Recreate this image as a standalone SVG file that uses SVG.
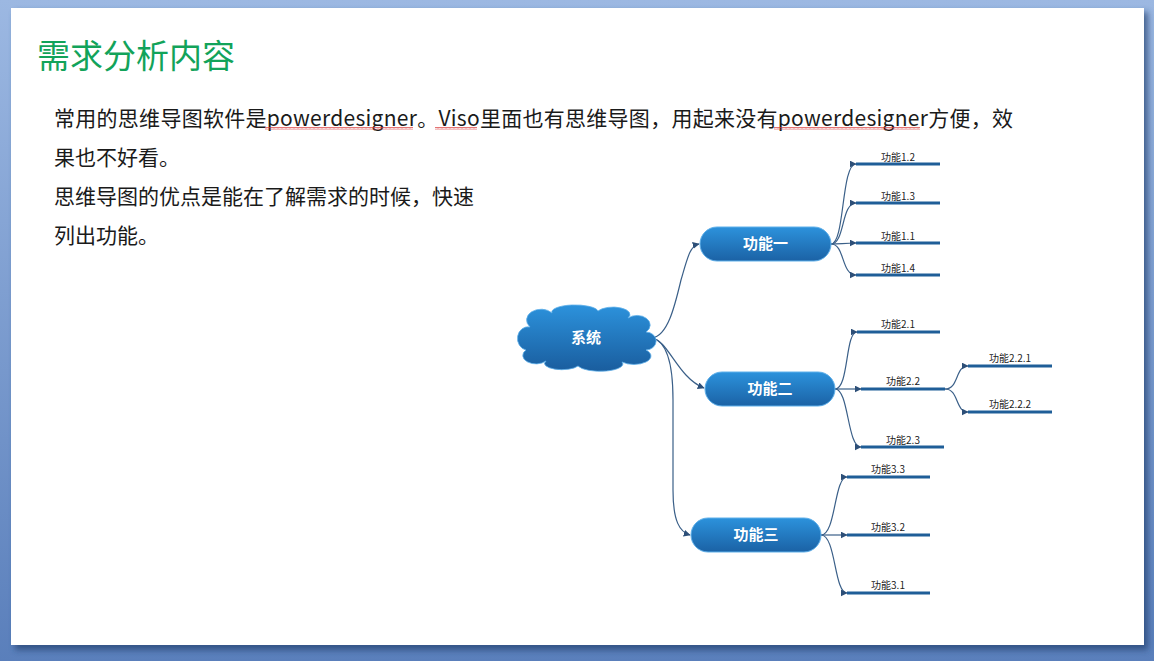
<svg xmlns="http://www.w3.org/2000/svg" width="1154" height="661" viewBox="0 0 1154 661">
<defs>
<linearGradient id="bg" x1="0" y1="0" x2="0" y2="1">
<stop offset="0" stop-color="#9cb8e2"/>
<stop offset="1" stop-color="#5a7fbb"/>
</linearGradient>
<linearGradient id="nodeGrad" x1="0" y1="0" x2="0" y2="1">
<stop offset="0" stop-color="#2c92dc"/>
<stop offset="1" stop-color="#1b62a5"/>
</linearGradient>
<linearGradient id="cloudGrad" x1="0" y1="305" x2="0" y2="370" gradientUnits="userSpaceOnUse">
<stop offset="0" stop-color="#2c92dc"/>
<stop offset="1" stop-color="#1a5e9f"/>
</linearGradient>
<filter id="shadow" x="-5%" y="-5%" width="110%" height="110%">
<feGaussianBlur stdDeviation="3"/>
</filter>
<marker id="arr" viewBox="0 0 10 10" refX="9" refY="5" markerWidth="7" markerHeight="7" markerUnits="userSpaceOnUse" orient="auto">
<path d="M0,0 L10,5 L0,10 Z" fill="#2d4f78"/>
</marker>
<pattern id="wavy" width="4" height="3" patternUnits="userSpaceOnUse">
<path d="M0,2.5 L1,0.5 L2,2.5 L3,0.5 L4,2.5" fill="none" stroke="#d83a3a" stroke-width="0.7"/>
</pattern>
</defs>
<style>
.body{font-family:"Noto Sans CJK SC","Noto Sans",sans-serif;font-size:21px;fill:#1a1a1a}
.title{font-family:"Noto Sans CJK SC","Noto Sans",sans-serif;font-size:33px;fill:#12a35a}
.ntext{font-family:"Noto Sans CJK SC",sans-serif;font-size:15px;font-weight:bold;fill:#ffffff;text-anchor:middle}
.lbl{font-family:"Noto Sans CJK SC","Noto Sans",sans-serif;font-size:10px;fill:#222222;text-anchor:middle}
.pill{fill:url(#nodeGrad);stroke:#5fb0ea;stroke-width:1}
.bar{stroke:#1f5e98;stroke-width:3;fill:none}
.conn{fill:none;stroke:#3a5f88;stroke-width:1.2;marker-end:url(#arr)}
</style>
<rect x="0" y="0" width="1154" height="661" fill="url(#bg)"/>
<rect x="15" y="12" width="1133" height="638" fill="#213f6e" opacity="0.7" filter="url(#shadow)"/>
<rect x="11" y="8" width="1133" height="637" fill="#ffffff"/>

<text class="title" x="37" y="68">需求分析内容</text>
<g id="bodytext">
<text class="body" x="54" y="126" textLength="959" lengthAdjust="spacing">常用的思维导图软件是powerdesigner。Viso里面也有思维导图，用起来没有powerdesigner方便，效</text>
<text class="body" x="54" y="165">果也不好看。</text>
<text class="body" x="54" y="204">思维导图的优点是能在了解需求的时候，快速</text>
<text class="body" x="54" y="243">列出功能。</text>
<rect x="265" y="127" width="148" height="3" fill="url(#wavy)"/>
<rect x="435" y="127" width="42" height="3" fill="url(#wavy)"/>
<rect x="774" y="127" width="146" height="3" fill="url(#wavy)"/>
</g>

<g id="connectors">
<path class="conn" d="M652,338 C668,336 675,305 681,280 C688,256 690,246 699,244"/>
<path class="conn" d="M652,338 C668,340 678,378 704,388"/>
<path class="conn" d="M652,338 C666,341 673,360 673,400 L673,490 C673,522 680,532 690,535"/>
<path class="conn" d="M831,244 C845,244 841,164 856,164"/>
<path class="conn" d="M831,244 C845,244 841,203 856,203"/>
<path class="conn" d="M831,244 C840,244 845,243 856,243"/>
<path class="conn" d="M831,244 C845,244 841,275 856,275"/>
<path class="conn" d="M835,389 C849,389 845,332 857,332"/>
<path class="conn" d="M835,389 C845,389 850,389 861,389"/>
<path class="conn" d="M835,389 C849,389 847,447 861,447"/>
<path class="conn" d="M945,389 C959,389 955,366 968,366"/>
<path class="conn" d="M945,389 C959,389 955,412 968,412"/>
<path class="conn" d="M821,535 C836,535 834,477 847,477"/>
<path class="conn" d="M821,535 C830,535 836,535 847,535"/>
<path class="conn" d="M821,535 C836,535 834,593 847,593"/>
</g>

<g id="node-system">
<path d="M530,327 A12,9 0 0 1 552,313 A23,7 0 0 1 598,311 A16,7 0 0 1 628,318 A11,8 0 0 1 646,332 A9,8 0 0 1 646,350 A14,7 0 0 1 622,362 A22,7 0 0 1 578,366 A17,6 0 0 1 546,361 A11,7 0 0 1 526,350 A9,10 0 0 1 530,327 Z" fill="url(#cloudGrad)" stroke="#5fb0ea" stroke-width="0.8"/>
<text class="ntext" x="586" y="343">系统</text>
</g>

<g id="node-f1">
<rect class="pill" x="700" y="227" width="131" height="34" rx="17"/>
<text class="ntext" x="765.5" y="249">功能一</text>
</g>
<g id="node-f2">
<rect class="pill" x="705" y="372" width="130" height="34" rx="17"/>
<text class="ntext" x="770" y="394">功能二</text>
</g>
<g id="node-f3">
<rect class="pill" x="691" y="518" width="130" height="34" rx="17"/>
<text class="ntext" x="756" y="540">功能三</text>
</g>

<g id="node-f12"><line class="bar" x1="856" y1="164" x2="940" y2="164"/><text class="lbl" x="898" y="161">功能1.2</text></g>
<g id="node-f13"><line class="bar" x1="856" y1="203" x2="940" y2="203"/><text class="lbl" x="898" y="200">功能1.3</text></g>
<g id="node-f11"><line class="bar" x1="856" y1="243" x2="940" y2="243"/><text class="lbl" x="898" y="240">功能1.1</text></g>
<g id="node-f14"><line class="bar" x1="856" y1="275" x2="940" y2="275"/><text class="lbl" x="898" y="272">功能1.4</text></g>

<g id="node-f21"><line class="bar" x1="857" y1="332" x2="940" y2="332"/><text class="lbl" x="898" y="328">功能2.1</text></g>
<g id="node-f22"><line class="bar" x1="861" y1="389" x2="945" y2="389"/><text class="lbl" x="903" y="385">功能2.2</text></g>
<g id="node-f23"><line class="bar" x1="861" y1="447" x2="944" y2="447"/><text class="lbl" x="903" y="444">功能2.3</text></g>
<g id="node-f221"><line class="bar" x1="968" y1="366" x2="1052" y2="366"/><text class="lbl" x="1010" y="362">功能2.2.1</text></g>
<g id="node-f222"><line class="bar" x1="968" y1="412" x2="1052" y2="412"/><text class="lbl" x="1010" y="408">功能2.2.2</text></g>

<g id="node-f33"><line class="bar" x1="847" y1="477" x2="930" y2="477"/><text class="lbl" x="888" y="473">功能3.3</text></g>
<g id="node-f32"><line class="bar" x1="847" y1="535" x2="930" y2="535"/><text class="lbl" x="888" y="531">功能3.2</text></g>
<g id="node-f31"><line class="bar" x1="847" y1="593" x2="930" y2="593"/><text class="lbl" x="888" y="589">功能3.1</text></g>
</svg>
